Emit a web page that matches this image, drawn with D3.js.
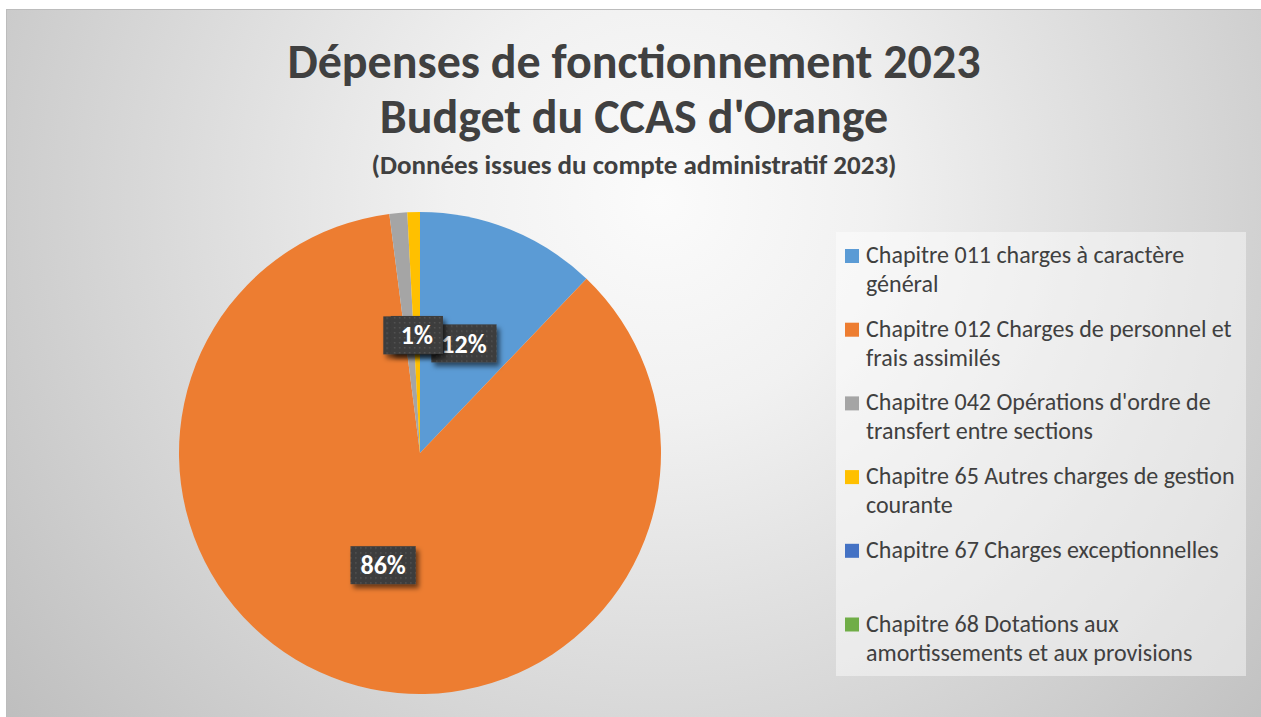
<!DOCTYPE html>
<html>
<head>
<meta charset="utf-8">
<script src="https://cdn.jsdelivr.net/npm/d3@7"></script>
<style>
  html, body { margin: 0; padding: 0; background: #fff; }
  svg { display: block; }
</style>
</head>
<body>
<div id="chart"></div>
<script>
// Chart data (shares, in %)
var categories = [
  'Chapitre 011 charges à caractère\ngénéral',
  'Chapitre 012 Charges de personnel et\nfrais assimilés',
  "Chapitre 042 Opérations d'ordre de\ntransfert entre sections",
  'Chapitre 65 Autres charges de gestion\ncourante',
  'Chapitre 67 Charges exceptionnelles',
  'Chapitre 68 Dotations aux\namortissements et aux provisions'
];
var values = [12.13, 85.77, 1.19, 0.84, 0, 0];
var colors = ['#5b9bd5', '#ed7d31', '#a5a5a5', '#ffc000', '#4472c4', '#70ad47'];
var titleLines = ['Dépenses de fonctionnement 2023', "Budget du CCAS d'Orange"];
var subtitle = '(Données issues du compte administratif 2023)';

var width = 1261, height = 717;
var font = 'Carlito, Lato, sans-serif';

var svg = d3.select('#chart').append('svg')
    .attr('width', width)
    .attr('height', height);

var defs = svg.append('defs');

// background gradient
var grad = defs.append('radialGradient')
    .attr('id', 'bg')
    .attr('gradientUnits', 'userSpaceOnUse')
    .attr('cx', 660).attr('cy', 200).attr('r', 850);
grad.append('stop').attr('offset', '0').attr('stop-color', '#fbfbfb');
grad.append('stop').attr('offset', '0.25').attr('stop-color', '#f1f1f1');
grad.append('stop').attr('offset', '1').attr('stop-color', '#bdbdbd');

// dotted texture for the data labels
var pat = defs.append('pattern')
    .attr('id', 'dots')
    .attr('patternUnits', 'userSpaceOnUse')
    .attr('width', 5).attr('height', 5);
pat.append('rect').attr('width', 5).attr('height', 5).attr('fill', '#3d3d3d');
pat.append('rect').attr('x', 2).attr('y', 2).attr('width', 1.5).attr('height', 1.5).attr('fill', '#535353');

var shadow = defs.append('filter')
    .attr('id', 'shadow')
    .attr('x', '-30%').attr('y', '-30%')
    .attr('width', '170%').attr('height', '170%');
shadow.append('feDropShadow')
    .attr('dx', 3).attr('dy', 4)
    .attr('stdDeviation', 2.5)
    .attr('flood-color', '#000')
    .attr('flood-opacity', 0.55);

svg.append('rect')
    .attr('x', 6.5).attr('y', 9.5)
    .attr('width', width).attr('height', height)
    .attr('fill', 'url(#bg)')
    .attr('stroke', '#bcbcbc');

// titles
svg.selectAll('text.title')
    .data(titleLines)
    .enter().append('text')
    .attr('class', 'title')
    .attr('x', 634)
    .attr('y', function (d, i) { return 78 + i * 55; })
    .attr('text-anchor', 'middle')
    .attr('font-family', font)
    .attr('font-weight', 'bold')
    .attr('font-size', 48)
    .attr('fill', '#404040')
    .text(function (d) { return d; });

svg.append('text')
    .attr('x', 634)
    .attr('y', 174)
    .attr('text-anchor', 'middle')
    .attr('font-family', font)
    .attr('font-weight', 'bold')
    .attr('font-size', 27)
    .attr('fill', '#404040')
    .text(subtitle);

// pie
var cx = 420, cy = 453, radius = 241;
var pie = d3.pie().sort(null).value(function (d) { return d; });
var arcs = pie(values);
var arc = d3.arc().innerRadius(0).outerRadius(radius);
var labelArc = d3.arc().innerRadius(radius * 0.49).outerRadius(radius * 0.49);
var total = d3.sum(values);

var g = svg.append('g').attr('transform', 'translate(' + cx + ',' + cy + ')');

g.selectAll('path.slice')
    .data(arcs)
    .enter().append('path')
    .attr('class', 'slice')
    .attr('d', arc)
    .attr('fill', function (d, i) { return colors[i]; });

// data labels (the two 1% labels sit on top of each other, as in Excel)
var labels = g.selectAll('g.label')
    .data(arcs.filter(function (d) { return d.value > 0; }))
    .enter().append('g')
    .attr('class', 'label')
    .attr('transform', function (d) {
      return 'translate(' + labelArc.centroid(d) + ')';
    });

labels.append('rect')
    .attr('fill', 'url(#dots)')
    .attr('filter', 'url(#shadow)');

labels.append('text')
    .attr('text-anchor', 'middle')
    .attr('dy', '0.35em')
    .attr('font-family', font)
    .attr('font-weight', 'bold')
    .attr('font-size', 26)
    .attr('fill', '#ffffff')
    .text(function (d) { return Math.round(d.value / total * 100) + '%'; });

labels.each(function () {
  var node = d3.select(this);
  var w = node.select('text').node().getComputedTextLength() + 20;
  var h = 38;
  node.select('rect')
      .attr('x', -w / 2).attr('y', -h / 2)
      .attr('width', w).attr('height', h);
});

// legend
var legendX = 836, legendY = 232;
svg.append('rect')
    .attr('x', legendX).attr('y', legendY)
    .attr('width', 410).attr('height', 444)
    .attr('fill', '#ffffff')
    .attr('fill-opacity', 0.45);

var items = svg.selectAll('g.legend')
    .data(categories)
    .enter().append('g')
    .attr('class', 'legend')
    .attr('transform', function (d, i) {
      return 'translate(' + (legendX + 9) + ',' + (legendY + 31 + i * 73.7) + ')';
    });

items.append('rect')
    .attr('x', 0).attr('y', -14)
    .attr('width', 14).attr('height', 14)
    .attr('fill', function (d, i) { return colors[i]; });

items.append('text')
    .attr('font-family', font)
    .attr('font-size', 24)
    .attr('fill', '#404040')
    .selectAll('tspan')
    .data(function (d) { return d.split('\n'); })
    .enter().append('tspan')
    .attr('x', 21)
    .attr('y', function (d, i) { return i * 29; })
    .text(function (d) { return d; });
</script>
</body>
</html>
